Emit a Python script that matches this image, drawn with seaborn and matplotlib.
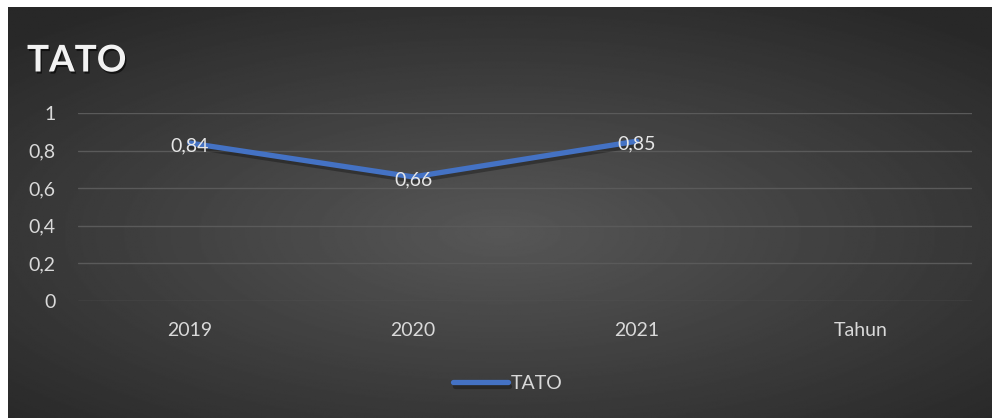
import numpy as np
import pandas as pd
import seaborn as sns
import matplotlib.pyplot as plt
import matplotlib.patheffects as pe

sns.set_style('white')
plt.rcParams['font.family'] = ['Lato', 'DejaVu Sans']

categories = ['2019', '2020', '2021', 'Tahun']
tato = [0.84, 0.66, 0.85, np.nan]
y_ticks = [0, 0.2, 0.4, 0.6, 0.8, 1]
y_labels = ['0', '0,2', '0,4', '0,6', '0,8', '1']

df = pd.DataFrame({'pos': np.arange(len(categories)), 'TATO': tato})

fig = plt.figure(figsize=(9.93, 4.18), dpi=100)
fig.patch.set_facecolor('white')

# dark radial gradient background
bg = fig.add_axes([8 / 993, 0, 984 / 993, 411 / 418])
yy, xx = np.mgrid[-1:1:300j, -1:1:600j]
r = np.sqrt((xx * 0.8) ** 2 + ((yy - 0.1) * 0.85) ** 2)
shade = np.clip(0.34 - 0.16 * r, 0.16, 0.34)
bg.imshow(shade, cmap='gray', vmin=0, vmax=1, aspect='auto', extent=[0, 1, 0, 1])
bg.set_axis_off()

ax = fig.add_axes([78 / 993, (418 - 301) / 418, 894 / 993, 188 / 418])
ax.patch.set_alpha(0)

sns.lineplot(data=df, x='pos', y='TATO', ax=ax, color='#4472C4', linewidth=3.8,
             label='TATO', solid_capstyle='round', zorder=3,
             path_effects=[pe.SimpleLineShadow(offset=(1, -2.5), shadow_color='black', alpha=0.3),
                           pe.Normal()])

for x, v in zip(df['pos'], df['TATO']):
    if not np.isnan(v):
        ax.text(x, v - 0.015, f'{v:.2f}'.replace('.', ','), ha='center', va='center',
                color='#e6e6e6', fontsize=14, zorder=4)

ax.set_xlim(-0.5, len(categories) - 0.5)
ax.set_ylim(0, 1)
ax.set_yticks(y_ticks)
ax.set_yticklabels(y_labels)
ax.set_xticks(df['pos'])
ax.set_xticklabels(categories)
ax.tick_params(axis='both', colors='#d9d9d9', labelsize=14, length=0)
ax.tick_params(axis='x', pad=15)
ax.tick_params(axis='y', pad=16)
ax.grid(axis='y', color='#5a5a5a', linewidth=1)
ax.set_axisbelow(True)
for s in ax.spines.values():
    s.set_visible(False)
ax.set_xlabel('')
ax.set_ylabel('')

leg = ax.legend(loc='center', bbox_to_anchor=(0.481, -0.44), frameon=False, fontsize=14,
                handlelength=2.8, handletextpad=0.15)
for t in leg.get_texts():
    t.set_color('#d9d9d9')

fig.text(27 / 993, 1 - 61 / 418, 'TATO', fontsize=26.5, fontweight='bold', color='#f2f2f2',
         va='center', ha='left',
         path_effects=[pe.withSimplePatchShadow(offset=(1, -1.5), shadow_rgbFace='black', alpha=0.6)])

fig.savefig('out.png', dpi=100)
